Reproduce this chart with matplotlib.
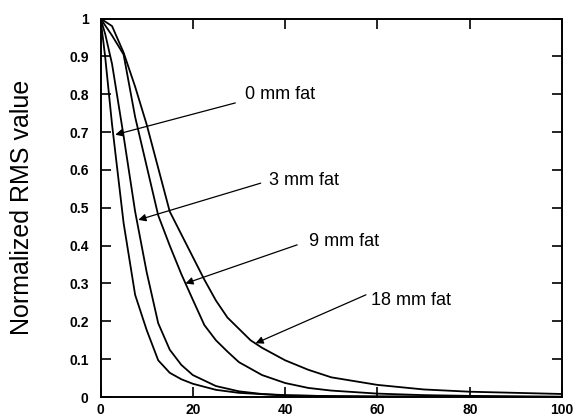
import numpy as np
import matplotlib.pyplot as plt

plt.rcParams['font.family'] = ['Liberation Sans', 'DejaVu Sans']

x_0mm = [0, 1, 2.5, 5, 7.5, 10, 12.5, 15, 17.5, 20, 25, 30, 40, 60, 100]
y_0mm = [1.0, 0.90, 0.72, 0.46, 0.27, 0.177, 0.097, 0.064, 0.047, 0.035, 0.019, 0.011, 0.004, 0.001, 0.0]

x_3mm = [0, 1, 2.5, 5, 7.5, 10, 12.5, 15, 17.5, 20, 25, 30, 35, 40, 50, 100]
y_3mm = [1.0, 0.96, 0.88, 0.69, 0.49, 0.33, 0.195, 0.125, 0.085, 0.058, 0.029, 0.015, 0.008, 0.005, 0.002, 0.0]

x_9mm = [0, 2.5, 5, 7.5, 10, 12.5, 15, 17.5, 20, 22.5, 25, 27.5, 30, 35, 40, 45, 50, 60, 70, 80, 100]
y_9mm = [1.0, 0.955, 0.905, 0.74, 0.61, 0.48, 0.40, 0.325, 0.257, 0.19, 0.15, 0.12, 0.092, 0.058, 0.037, 0.024, 0.017, 0.009, 0.005, 0.003, 0.001]

x_18mm = [0, 2.5, 5, 7.5, 10, 12.5, 15, 17.5, 20, 22.5, 25, 27.5, 30, 32.5, 35, 40, 45, 50, 55, 60, 70, 80, 90, 100]
y_18mm = [1.0, 0.98, 0.91, 0.82, 0.72, 0.605, 0.49, 0.43, 0.37, 0.31, 0.255, 0.21, 0.18, 0.15, 0.13, 0.097, 0.072, 0.052, 0.042, 0.032, 0.02, 0.014, 0.011, 0.008]

labels = ['0 mm fat', '3 mm fat', '9 mm fat', '18 mm fat']
label_pos = [(31.4, 0.80), (36.4, 0.572), (45.1, 0.411), (58.6, 0.255)]
arrow_tips = [(3.2, 0.693), (8.2, 0.468), (18.4, 0.30), (33.6, 0.142)]
arrow_tails = [(29.2, 0.777), (34.7, 0.565), (42.6, 0.402), (57.5, 0.27)]

fig = plt.figure(figsize=(5.73, 4.18), dpi=100)
ax = fig.add_axes([0.1754, 0.0502, 0.8056, 0.9055])

for xs, ys in [(x_0mm, y_0mm), (x_3mm, y_3mm), (x_9mm, y_9mm), (x_18mm, y_18mm)]:
    ax.plot(xs, ys, color='black', lw=1.3)

for lab, (tx, ty), tip, tail in zip(labels, label_pos, arrow_tips, arrow_tails):
    ax.text(tx, ty, lab, fontsize=13, va='center', ha='left')
    ax.annotate('', xy=tip, xytext=tail,
                arrowprops=dict(arrowstyle='-|>', color='black', lw=0.9,
                                mutation_scale=11, shrinkA=0, shrinkB=0))

ax.set_xlim(0, 100)
ax.set_ylim(0, 1)
ax.set_xticks([0, 20, 40, 60, 80, 100])
ax.set_yticks(np.arange(0, 1.01, 0.1))
ax.set_yticklabels(['0', '0.1', '0.2', '0.3', '0.4', '0.5', '0.6', '0.7', '0.8', '0.9', '1'])
ax.tick_params(direction='in', length=7, width=1.2, top=True, right=True,
               labelsize=10)
ax.tick_params(axis='y', pad=8.5)
ax.tick_params(axis='x', pad=4)
for lab in ax.get_xticklabels() + ax.get_yticklabels():
    lab.set_fontweight('bold')
for s in ax.spines.values():
    s.set_linewidth(1.4)

ax.set_ylabel('Normalized RMS value', fontsize=18)
ax.yaxis.label.set_verticalalignment('center')
ax.yaxis.set_label_coords(-0.17, 0.5)

fig.savefig('out.png', dpi=100)
